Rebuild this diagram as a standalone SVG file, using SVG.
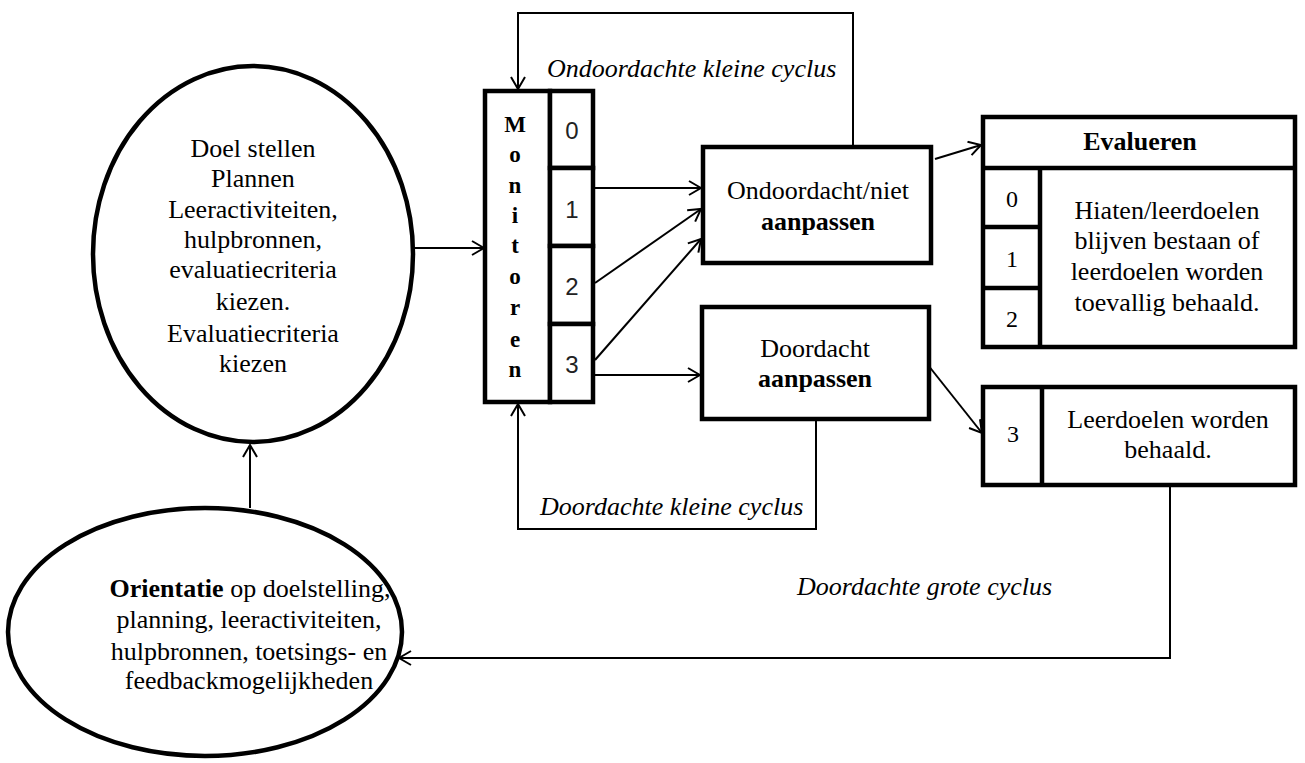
<svg xmlns="http://www.w3.org/2000/svg" width="1305" height="763" viewBox="0 0 1305 763">
<defs>
<marker id="arr" viewBox="0 0 14 16" refX="13" refY="8" markerWidth="14" markerHeight="16" markerUnits="userSpaceOnUse" orient="auto">
<path d="M1,1 L13,8 L1,15" fill="none" stroke="#000" stroke-width="2"/>
</marker>
<style>
.box{fill:#fff;stroke:#000;stroke-width:4.5}
.ell{fill:#fff;stroke:#000;stroke-width:4.5}
.con{fill:none;stroke:#000;stroke-width:2}
.t{font-family:"Liberation Serif","Times New Roman",serif;font-size:26px;fill:#000;text-anchor:middle}
.b{font-weight:bold}
.it{font-family:"Liberation Serif","Times New Roman",serif;font-size:26px;font-style:italic;fill:#000}
.mon{font-family:"Liberation Serif","Times New Roman",serif;font-size:23px;font-weight:bold;fill:#000;text-anchor:middle}
.num{font-family:"Liberation Sans",Arial,sans-serif;font-size:24px;fill:#222;text-anchor:middle}
.tn{font-family:"Liberation Serif","Times New Roman",serif;font-size:24px;fill:#000;text-anchor:middle}
</style>
</defs>
<rect width="1305" height="763" fill="#fff"/>

<g id="connectors">
<path class="con" d="M413,248 H484" marker-end="url(#arr)"/>
<path class="con" d="M250,508 V445" marker-end="url(#arr)"/>
<path class="con" d="M853,147 V13 H518 V89" marker-end="url(#arr)"/>
<path class="con" d="M595,188 H701" marker-end="url(#arr)"/>
<path class="con" d="M595,283 L701,209" marker-end="url(#arr)"/>
<path class="con" d="M595,360 L701,239" marker-end="url(#arr)"/>
<path class="con" d="M595,375 H700" marker-end="url(#arr)"/>
<path class="con" d="M935,159 L981,145" marker-end="url(#arr)"/>
<path class="con" d="M924,360 L982,433" marker-end="url(#arr)"/>
<path class="con" d="M816,419 V529 H518 V404" marker-end="url(#arr)"/>
<path class="con" d="M1170,485 V658 H399" marker-end="url(#arr)"/>
</g>

<g id="doel">
<ellipse class="ell" cx="253" cy="254" rx="160" ry="188"/>
<text class="t" x="253" y="157">Doel stellen</text>
<text class="t" x="253" y="187">Plannen</text>
<text class="t" x="253" y="218">Leeractiviteiten,</text>
<text class="t" x="253" y="248">hulpbronnen,</text>
<text class="t" x="253" y="278">evaluatiecriteria</text>
<text class="t" x="253" y="310">kiezen.</text>
<text class="t" x="253" y="342">Evaluatiecriteria</text>
<text class="t" x="253" y="372">kiezen</text>
</g>

<g id="orientatie">
<ellipse class="ell" cx="205" cy="632" rx="197" ry="124"/>
<text class="t" x="250" y="597"><tspan class="b">Orientatie</tspan> op doelstelling,</text>
<text class="t" x="249" y="628">planning, leeractiviteiten,</text>
<text class="t" x="249" y="660">hulpbronnen, toetsings- en</text>
<text class="t" x="249" y="689">feedbackmogelijkheden</text>
</g>

<g id="monitoren">
<rect class="box" x="485" y="91" width="65" height="311"/>
<rect class="box" x="550" y="91" width="43" height="77"/>
<rect class="box" x="550" y="168" width="43" height="78"/>
<rect class="box" x="550" y="246" width="43" height="78"/>
<rect class="box" x="550" y="324" width="43" height="78"/>
<text class="mon" x="515" y="132">M</text>
<text class="mon" x="515" y="162">o</text>
<text class="mon" x="515" y="193">n</text>
<text class="mon" x="515" y="223">i</text>
<text class="mon" x="515" y="253">t</text>
<text class="mon" x="515" y="284">o</text>
<text class="mon" x="515" y="315">r</text>
<text class="mon" x="515" y="347">e</text>
<text class="mon" x="515" y="377">n</text>
<text class="num" x="572" y="139">0</text>
<text class="num" x="572" y="218">1</text>
<text class="num" x="572" y="295">2</text>
<text class="num" x="572" y="373">3</text>
</g>

<g id="ondoordacht">
<rect class="box" x="703" y="147" width="228" height="116"/>
<text class="t" x="818" y="199">Ondoordacht/niet</text>
<text class="t b" x="818" y="230">aanpassen</text>
</g>

<g id="doordacht">
<rect class="box" x="702" y="307" width="227" height="112"/>
<text class="t" x="815" y="357">Doordacht</text>
<text class="t b" x="815" y="387">aanpassen</text>
</g>

<g id="evalueren">
<rect class="box" x="983" y="117" width="312" height="230"/>
<line class="box" x1="983" y1="168" x2="1295" y2="168"/>
<line class="box" x1="1040" y1="168" x2="1040" y2="347"/>
<line class="box" x1="983" y1="227" x2="1040" y2="227"/>
<line class="box" x1="983" y1="288" x2="1040" y2="288"/>
<text class="t b" x="1140" y="150">Evalueren</text>
<text class="tn" x="1012" y="207">0</text>
<text class="tn" x="1012" y="267">1</text>
<text class="tn" x="1012" y="327">2</text>
<text class="t" x="1167" y="219">Hiaten/leerdoelen</text>
<text class="t" x="1167" y="249">blijven bestaan of</text>
<text class="t" x="1167" y="280">leerdoelen worden</text>
<text class="t" x="1167" y="311">toevallig behaald.</text>
</g>

<g id="leerdoelen">
<rect class="box" x="983" y="387" width="312" height="98"/>
<line class="box" x1="1042" y1="387" x2="1042" y2="485"/>
<text class="tn" x="1013" y="442">3</text>
<text class="t" x="1168" y="428">Leerdoelen worden</text>
<text class="t" x="1168" y="458">behaald.</text>
</g>

<g id="labels">
<text class="it" x="547" y="77">Ondoordachte kleine cyclus</text>
<text class="it" x="540" y="515">Doordachte kleine cyclus</text>
<text class="it" x="797" y="595">Doordachte grote cyclus</text>
</g>
</svg>
